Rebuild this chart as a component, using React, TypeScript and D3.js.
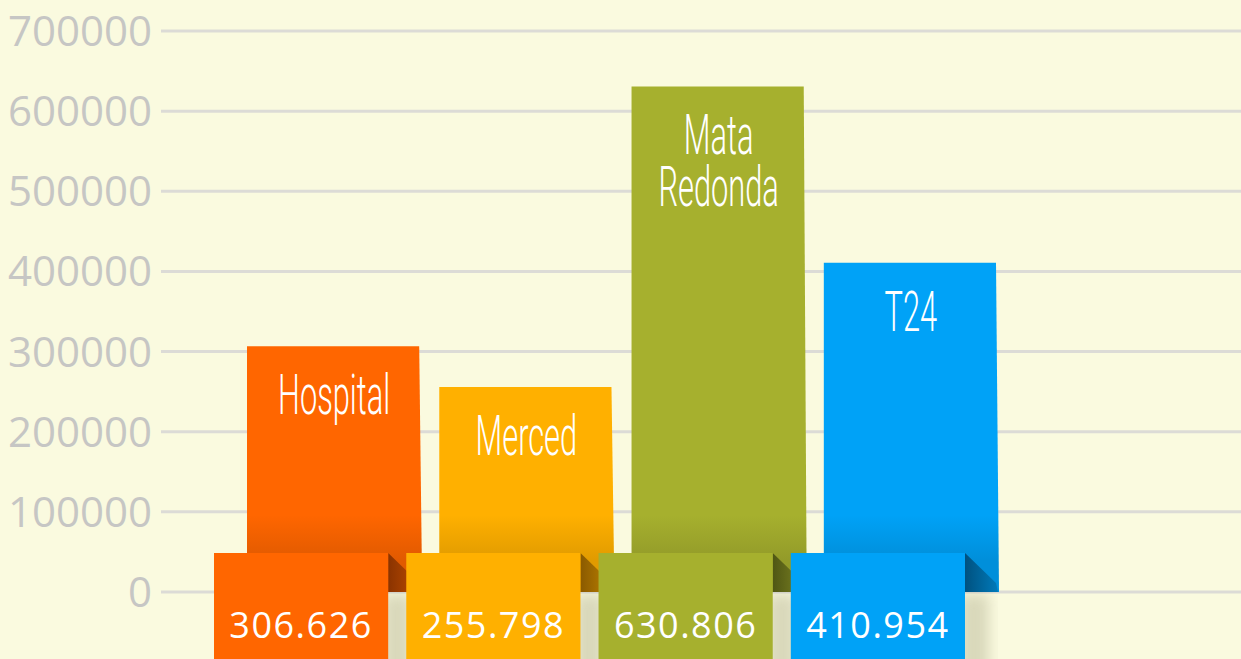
import React from 'react';
import * as d3 from 'd3';

// data
const categories = ['Hospital', 'Merced', 'Mata Redonda', 'T24'];
const values = [306626, 255798, 630806, 410954];
const valueLabels = ['306.626', '255.798', '630.806', '410.954'];
const barLabelLines = [['Hospital'], ['Merced'], ['Mata', 'Redonda'], ['T24']];
const yTicks = [0, 100000, 200000, 300000, 400000, 500000, 600000, 700000];

const colors = ['#FF6600', '#FFB000', '#A6B02E', '#00A2F7'];
const darkColors = ['#8A3300', '#8A5A00', '#4F5614', '#00517F'];

const W = 1241;
const H = 659;

export default function App() {
  const y = d3.scaleLinear().domain([0, 700000]).range([592, 31]);
  const x = d3.scaleBand().domain(categories).range([247, 998]).paddingInner(0.094).paddingOuter(0);
  const bw = x.bandwidth();
  const tagTop = 553;
  const tagShift = 33;
  const fmt = d3.format('d');

  return (
    <svg width={W} height={H} style={{ position: 'fixed', left: 0, top: 0, background: '#FAFADF' }}>
      <defs>
        {categories.map((c, i) => (
          <linearGradient key={c} id={'bar' + i} x1="0" y1={515} x2="0" y2={560} gradientUnits="userSpaceOnUse">
            <stop offset="0" stopColor={colors[i]} />
            <stop offset="1" stopColor={d3.color(colors[i]).darker(0.35).toString()} />
          </linearGradient>
        ))}
        {categories.map((c, i) => (
          <linearGradient key={c} id={'fold' + i} x1="0" y1="0" x2="1" y2="0">
            <stop offset="0" stopColor={darkColors[i]} />
            <stop offset="1" stopColor={d3.color(colors[i]).darker(0.8).toString()} />
          </linearGradient>
        ))}
        <filter id="shadow" x="-20%" y="-20%" width="150%" height="150%">
          <feGaussianBlur stdDeviation="7" />
        </filter>
      </defs>

      <rect width={W} height={H} fill="#FAFADF" />

      {yTicks.map(t => (
        <g key={t}>
          <line x1={161} x2={W} y1={y(t)} y2={y(t)} stroke="#DCDBD6" strokeWidth={3} />
          <text x={152} y={y(t) + 15} textAnchor="end" fontFamily="'Open Sans', sans-serif" fontSize={42} fill="#C6C6C4">
            {fmt(t)}
          </text>
        </g>
      ))}

      {categories.map((c, i) => {
        const x0 = x(c) as number;
        const top = y(values[i]);
        const lines = barLabelLines[i];
        const cx = x0 + bw / 2;
        return (
          <g key={c}>
            <polygon
              points={`${x0},${top} ${x0 + bw - 2},${top} ${x0 + bw + 1},${y(0)} ${x0},${y(0)}`}
              fill={`url(#bar${i})`}
            />
            <text
              transform={`translate(${cx},${top + 68}) scale(0.56,1)`}
              textAnchor="middle"
              fontFamily="Roboto, sans-serif"
              fontWeight={300}
              fontSize={55}
              fill="#fff"
            >
              {lines.map((ln, j) => (
                <tspan key={ln} x={0} dy={j === 0 ? 0 : 52}>
                  {ln}
                </tspan>
              ))}
            </text>
          </g>
        );
      })}

      {categories.map((c, i) => {
        const tx = (x(c) as number) - tagShift;
        const right = tx + bw;
        return (
          <g key={c}>
            <rect x={right - 6} y={y(0) + 2} width={30} height={H} fill="#9C9A78" opacity={0.35} filter="url(#shadow)" />
            <polygon points={`${right},${tagTop} ${right + tagShift - 2},${tagTop + 30} ${right + tagShift},${y(0)} ${right},${y(0)}`} fill={`url(#fold${i})`} />
            <rect x={tx} y={tagTop} width={bw} height={H - tagTop + 10} fill={colors[i]} />
            <text
              x={tx + bw / 2}
              y={638}
              textAnchor="middle"
              fontFamily="'Open Sans', sans-serif"
              fontSize={36}
              letterSpacing={1.5}
              fill="#fff"
            >
              {valueLabels[i]}
            </text>
          </g>
        );
      })}
    </svg>
  );
}
